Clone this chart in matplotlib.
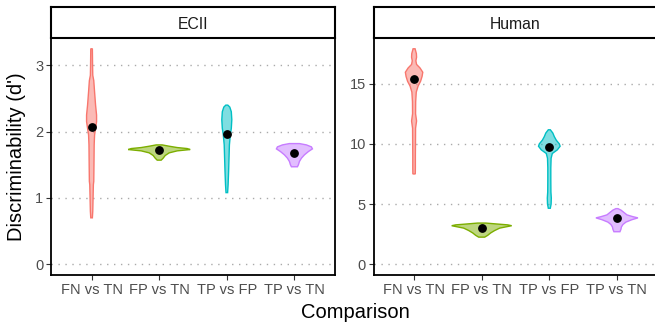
import numpy as np
import matplotlib
matplotlib.use("Agg")
import matplotlib.pyplot as plt
from matplotlib.patches import Rectangle

plt.rcParams["font.family"] = ["Liberation Sans", "DejaVu Sans"]

comparisons = ["FN vs TN", "FP vs TN", "TP vs FP", "TP vs TN"]
colors = ["#F8766D", "#7CAE00", "#00BFC4", "#C77CFF"]
panels = ["ECII", "Human"]

# violin outlines: d' levels and relative density (half width)
ecii_levels = [
    [0.70, 0.8, 1.0, 1.2, 1.25, 1.5, 1.8, 1.95, 2.05, 2.15, 2.25, 2.4, 2.6, 2.77, 2.85, 3.0, 3.25],
    [1.57, 1.60, 1.64, 1.68, 1.71, 1.73, 1.745, 1.76, 1.78, 1.80],
    [1.08, 1.2, 1.4, 1.6, 1.8, 1.95, 2.05, 2.18, 2.3, 2.37, 2.40],
    [1.47, 1.50, 1.55, 1.60, 1.65, 1.70, 1.74, 1.77, 1.80, 1.82],
]
ecii_density = [
    [0.8, 1.2, 1.5, 1.8, 2.2, 2.4, 2.6, 3, 4, 5, 5, 4, 3, 2.2, 1.2, 1.0, 0.8],
    [2, 4, 6, 10, 18, 31, 28, 18, 10, 3],
    [0.8, 1.3, 1.8, 2.2, 2.6, 3.5, 4.5, 5, 4.5, 3, 1],
    [3, 4, 5, 7, 10, 14, 18, 17, 12, 5],
]
ecii_means = [2.07, 1.72, 1.97, 1.68]

human_levels = [
    [7.5, 8, 9, 10, 11.3, 11.9, 12.5, 13.5, 14.3, 14.8, 15.2, 15.6, 15.95, 16.3, 16.6, 16.9, 17.2, 17.5, 17.9],
    [2.25, 2.4, 2.6, 2.8, 3.0, 3.1, 3.2, 3.27, 3.35, 3.42],
    [4.65, 5.0, 5.5, 6.0, 7, 8, 8.8, 9.2, 9.5, 9.8, 10.0, 10.3, 10.6, 10.9, 11.17],
    [2.7, 2.9, 3.1, 3.3, 3.5, 3.7, 3.85, 3.95, 4.1, 4.3, 4.5, 4.62],
]
human_density = [
    [1.2, 1.3, 1.3, 1.4, 1.5, 2.5, 1.5, 1.6, 2.2, 4, 6.5, 8, 8.7, 6, 2.5, 1.8, 2.5, 2.3, 1],
    [3, 6, 9, 13, 18, 24, 30, 26, 14, 4],
    [1, 1.8, 2, 1.6, 1.5, 1.5, 1.8, 3, 8, 10.8, 10, 7, 5, 3.5, 1],
    [3, 4, 4.5, 6, 9, 15, 21, 16, 10, 7, 4, 1],
]
human_means = [15.35, 3.05, 9.75, 3.85]

ecii_ticks = [0, 1, 2, 3]
human_ticks = [0, 5, 10, 15]

W, H = 655, 324
fig = plt.figure(figsize=(W / 100, H / 100), dpi=100)

width_scale = 1 / 67.6  # density units -> category units


def draw_panel(left_px, title, levels, density, means, ticks):
    ax = fig.add_axes([left_px / W, (H - 275) / H, 284 / W, 237 / H])
    for i, (lv, dn) in enumerate(zip(levels, density)):
        lv = np.array(lv)
        hw = np.array(dn) * width_scale
        xs = np.concatenate([i - hw, (i + hw)[::-1]])
        ys = np.concatenate([lv, lv[::-1]])
        ax.fill(xs, ys, facecolor=colors[i], alpha=0.5, edgecolor="none", zorder=2)
        ax.fill(xs, ys, facecolor="none", edgecolor=colors[i], lw=1.0, zorder=3)
        ax.plot(i, means[i], "o", color="black", ms=5.3, zorder=4)

    top = max(max(l) for l in levels)
    pad = top * 0.05
    ax.set_ylim(-pad, top + pad)
    ax.set_xlim(-0.6, 3.6)
    ax.set_xticks(range(4))
    ax.set_xticklabels(comparisons)
    ax.set_yticks(ticks)
    ax.yaxis.grid(True, linestyle=(0, (1, 4)), color="#AAAAAA", lw=1.0)
    ax.set_axisbelow(True)
    ax.tick_params(length=3.5, width=0.8, color="#333333", labelcolor="#4D4D4D",
                   labelsize=10.5, pad=2)
    for s in ax.spines.values():
        s.set_linewidth(1.3)
        s.set_color("black")

    sax = fig.add_axes([left_px / W, (H - 38) / H, 284 / W, 31 / H])
    sax.set_xticks([])
    sax.set_yticks([])
    for s in sax.spines.values():
        s.set_linewidth(1.5)
        s.set_color("black")
    sax.text(0.5, 0.45, title, ha="center", va="center", fontsize=11.3,
             color="#1A1A1A", transform=sax.transAxes)
    return ax


draw_panel(51, panels[0], ecii_levels, ecii_density, ecii_means, ecii_ticks)
draw_panel(373.5, panels[1], human_levels, human_density, human_means, human_ticks)

fig.text(355 / W, 1 - 312 / H, "Comparison", ha="center", va="center", fontsize=14.5)
fig.text(17 / W, 1 - 157 / H, "Discriminability (d')", ha="center", va="center",
         rotation=90, fontsize=14.5)

fig.savefig("out.png", dpi=100)
